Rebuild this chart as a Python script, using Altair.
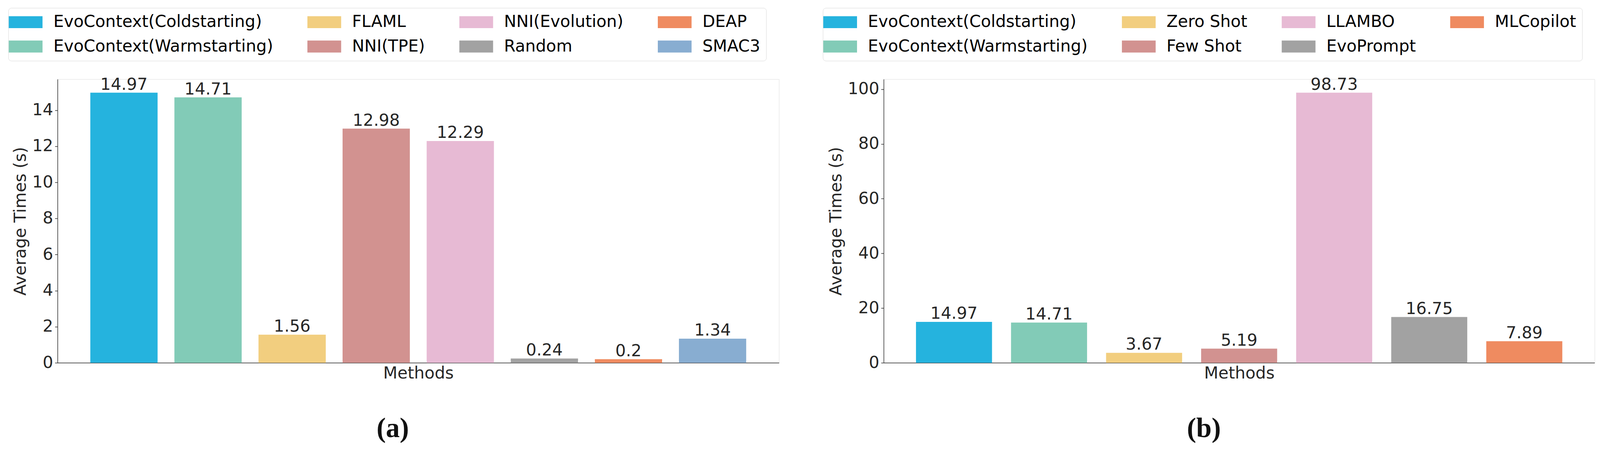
import altair as alt
import pandas as pd

# ---------------- data ----------------
methods_a = ["EvoContext(Coldstarting)", "EvoContext(Warmstarting)", "FLAML", "NNI(TPE)",
             "NNI(Evolution)", "Random", "DEAP", "SMAC3"]
times_a = [14.97, 14.71, 1.56, 12.98, 12.29, 0.24, 0.2, 1.34]
colors_a = ["#25B3DE", "#82CBB7", "#F2CE7F", "#D29290", "#E7BAD4", "#A2A2A2", "#EF8B60", "#88ADD1"]
ticks_a = [0, 2, 4, 6, 8, 10, 12, 14]

methods_b = ["EvoContext(Coldstarting)", "EvoContext(Warmstarting)", "Zero Shot", "Few Shot",
             "LLAMBO", "EvoPrompt", "MLCopilot"]
times_b = [14.97, 14.71, 3.67, 5.19, 98.73, 16.75, 7.89]
colors_b = ["#25B3DE", "#82CBB7", "#F2CE7F", "#D29290", "#E7BAD4", "#A2A2A2", "#EF8B60"]
ticks_b = [0, 20, 40, 60, 80, 100]

captions = ["(a)", "(b)"]
x_title = "Methods"
y_title = "Average Times (s)"

FONT = "DejaVu Sans"
FS = 44
DARK = "#262626"


def panel(methods, times, colors, ticks, pad_outer, width, legend_x, caption, cap_dx):
    df = pd.DataFrame({"method": methods, "time": times})
    ymax = max(times) * 1.05
    x = alt.X("method:N", sort=methods,
              scale=alt.Scale(paddingInner=0.2, paddingOuter=pad_outer),
              axis=alt.Axis(title=x_title, labels=False, ticks=False, domain=True,
                            domainColor=DARK, domainWidth=1.5,
                            titleFont=FONT, titleFontSize=FS, titleFontWeight="normal",
                            titleColor=DARK, titlePadding=6))
    y = alt.Y("time:Q",
              scale=alt.Scale(domain=[0, ymax], nice=False, zero=True),
              axis=alt.Axis(title=y_title, values=ticks, grid=False,
                            domainColor=DARK, domainWidth=1.5,
                            tickColor=DARK, tickWidth=1.5, tickSize=7,
                            labelFont=FONT, labelFontSize=FS, labelColor=DARK, labelPadding=5,
                            titleFont=FONT, titleFontSize=FS, titleFontWeight="normal",
                            titleColor=DARK, titlePadding=8))
    color = alt.Color("method:N",
                      scale=alt.Scale(domain=methods, range=colors),
                      legend=alt.Legend(title=None, columns=4,
                                        orient="none", legendX=legend_x, legendY=-190,
                                        symbolType="M-2.045,-0.727H2.045V0.727H-2.045Z",
                                        symbolSize=1936, symbolOffset=8,
                                        symbolStrokeWidth=0, symbolOpacity=1,
                                        labelFont=FONT, labelFontSize=FS, labelColor="#000000",
                                        labelOffset=52, labelLimit=2000,
                                        columnPadding=91, rowPadding=21, padding=16,
                                        strokeColor="#d6d6d6", cornerRadius=8,
                                        fillColor="#ffffff"))
    bars = alt.Chart(df).mark_bar().encode(x=x, y=y, color=color)
    labels = alt.Chart(df).mark_text(baseline="alphabetic", dy=-8, font=FONT, fontSize=FS,
                                      color=DARK).encode(x=x, y=y, text=alt.Text("time:Q"))
    return alt.layer(bars, labels).properties(
        width=width, height=756,
        title=alt.TitleParams(caption, orient="bottom", anchor="middle", frame="group",
                              dx=cap_dx, offset=90, font="Liberation Serif", fontSize=74,
                              fontWeight="bold", color="#111111"))


pa = panel(methods_a, times_a, colors_a, ticks_a, 0.39, 1923, -131, captions[0], -68)
pb = panel(methods_b, times_b, colors_b, ticks_b, 0.34, 1895, -162, captions[1], -94)

chart = alt.hconcat(pa, pb, spacing=115).resolve_scale(
    color="independent", x="independent", y="independent"
).properties(
    padding={"left": 13, "top": -12, "right": 5, "bottom": 5}
).configure_view(strokeWidth=0).configure_legend(strokeWidth=2.5).configure(background="#ffffff")

chart.save("out.html", embed_options={"renderer": "svg", "actions": False})
